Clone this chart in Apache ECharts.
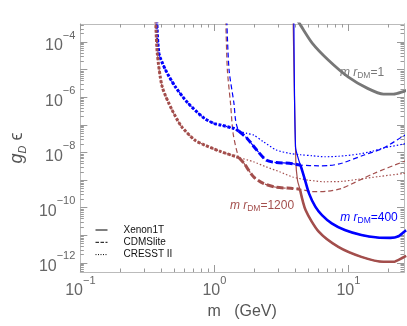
<!DOCTYPE html>
<html><head><meta charset="utf-8">
<script src="https://cdn.jsdelivr.net/npm/echarts@6/dist/echarts.min.js"></script>
<style>html,body{margin:0;padding:0;background:#fff}#c{width:407px;height:326px}</style>
</head><body><div id="c"></div>
<script>
// ---- data (m in GeV, g_D*epsilon) ----
const grayXenon = [[4.15,6.3e-4],[4.39,4.1e-4],[5.37,9.2e-5],[7.11,2.2e-5],[9.95,5.5e-6],[13.9,2.1e-6],[18.3,1.3e-6],[21.7,1.3e-6],[25.6,1.6e-6],[27,1.8e-6]];

const blueXenon = [[3.92,6e-4],[4.03,1.62e-8],[4.25,5.5e-9],[4.39,3.5e-9],[4.67,1.32e-9],[5.08,3.3e-10],[5.68,1.07e-10],[6.35,5.4e-11],[7.51,2.7e-11],[9.40,1.55e-11],[12.5,1.02e-11],[16.5,8.3e-12],[20.6,8.1e-12],[23.7,9.3e-12],[26.1,1.35e-11],[27,1.5e-11]];
const blueCdms = [[1.238,6e-4],[1.287,9.8e-6],[1.40,6.0e-7],[1.44,1.48e-7],[1.52,6.0e-8],[1.75,3.3e-8],[2.07,1.23e-8],[2.45,5.2e-9],[2.90,4.3e-9],[3.63,4.1e-9],[4.39,3.5e-9],[6.0,3.3e-9],[7.1,3.35e-9],[8.9,4.07e-9],[13.1,8.1e-9],[18.3,1.45e-8],[25.6,3.9e-8],[27,4.4e-8]];
const blueCresst = [[0.372,6e-4],[0.386,3.9e-5],[0.432,9.8e-6],[0.511,2.4e-6],[0.638,6.0e-7],[0.845,1.7e-7],[1.0,1.12e-7],[1.12,9.8e-8],[1.40,7.4e-8],[1.52,6.0e-8],[1.75,4.9e-8],[1.96,4.3e-8],[2.32,2.45e-8],[2.90,1.23e-8],[3.63,9.3e-9],[4.4,8.3e-9],[5.4,7.6e-9],[6.7,7.0e-9],[8.5,7.3e-9],[11.8,8.7e-9],[15,1.1e-8],[18.3,1.45e-8],[25.6,2.0e-8],[27,2.1e-8]];
const blueBreaks = [1.52, 4.39];

const brownXenon = [[3.87,6e-4],[4.05,5.2e-9],[4.17,1.0e-9],[4.35,4.7e-10],[4.80,8.1e-11],[6.01,1.35e-11],[8.41,3.8e-12],[12.5,1.66e-12],[18.3,1.1e-12],[21.7,1.1e-12],[25.6,1.58e-12],[27,1.8e-12]];
const brownCdms = [[1.217,6e-4],[1.25,9.8e-6],[1.32,6.0e-7],[1.38,4.9e-8],[1.52,6.6e-9],[1.66,4.1e-9],[1.96,1.32e-9],[2.32,7.6e-10],[2.90,5.5e-10],[3.84,5.0e-10],[4.35,4.7e-10],[5.37,3.8e-10],[7.0,4.0e-10],[8.89,5.0e-10],[15.5,1.74e-9],[25.6,4.6e-9],[27,5.0e-9]];
const brownCresst = [[0.365,6e-4],[0.375,3.9e-5],[0.408,2.4e-6],[0.483,3.5e-7],[0.571,8.5e-8],[0.715,2.8e-8],[0.845,1.86e-8],[1.12,1.07e-8],[1.52,6.6e-9],[1.96,4.6e-9],[2.44,3.0e-9],[3.07,2.0e-9],[3.84,1.3e-9],[5.0,1.0e-9],[6.7,8.7e-10],[9.0,9.0e-10],[11.8,1.07e-9],[17,1.35e-9],[25.6,1.74e-9],[27,1.8e-9]];
const brownBreaks = [1.52, 4.35];

const xMajorTicks = [0.1, 1, 10];
const xMinorTicks = [0.2,0.3,0.4,0.5,0.6,0.7,0.8,0.9,2,3,4,5,6,7,8,9,20];
const yMajorTicks = [1e-12,1e-11,1e-10,1e-9,1e-8,1e-7,1e-6,1e-5,1e-4];
const yMinorTicks = [];
for (let e = -13; e <= -4; e++) for (let k = 2; k <= 9; k++) yMinorTicks.push(k * Math.pow(10, e));

const X_MIN = 0.1, X_MAX = 26, Y_MIN = 4.7e-13, Y_MAX = 4.5e-4;

const BLUE = '#0000ff', BROWN = '#a34e4c', GRAY = '#777777';
const FONT = 'Liberation Sans, Arial, sans-serif';

function ln(name, data, color, width, type, z) {
  return { type: 'line', name, data, symbol: 'none', smooth: 0.25,
    lineStyle: { color, width, type, cap: 'butt' }, itemStyle: { color }, z, silent: true,
    xAxisIndex: 0, yAxisIndex: 0 };
}
const DASH = [5, 3], DOT = [1.5, 2], TDASH = [7, 3], TDOT = [3, 1.6];

function envelope(prefix, color, xen, cdms, cres, br) {
  return [
    ln(prefix + 'envC', cres.filter(p => p[0] <= br[0]), color, 3, TDOT, 5),
    ln(prefix + 'envD', cdms.filter(p => p[0] >= br[0] && p[0] <= br[1]), color, 3, TDASH, 5),
    ln(prefix + 'envX', xen.filter(p => p[0] >= br[1]), color, 2.6, 'solid', 5),
  ];
}

function supLabel(v, every) {
  const e = Math.log10(v), r = Math.round(e);
  if (Math.abs(e - r) > 1e-6) return '';
  if (every === 2 && r % 2 !== 0) return '';
  return '{b|10}{s|' + (r < 0 ? '\u2212' + (-r) : r) + '}';
}
const supRich = {
  b: { fontSize: 16, lineHeight: 24, verticalAlign: 'bottom', color: '#666', fontFamily: FONT },
  s: { fontSize: 11, verticalAlign: 'top', color: '#666', fontFamily: FONT }
};

function xAx(pos, ticks, len, labels) {
  return { type: 'log', min: X_MIN, max: X_MAX, position: pos, gridIndex: 0,
    axisLine: { show: true, lineStyle: { color: '#bbb', width: 1 } },
    axisTick: { show: true, inside: true, length: len, customValues: ticks, lineStyle: { color: '#999' } },
    axisLabel: labels ? { show: true, customValues: xMajorTicks, margin: 3, formatter: v => supLabel(v, 1), rich: supRich } : { show: false },
    splitLine: { show: false }, minorTick: { show: false } };
}
function yAx(pos, ticks, len, labels) {
  return { type: 'log', min: Y_MIN, max: Y_MAX, position: pos, gridIndex: 0,
    axisLine: { show: true, lineStyle: { color: '#bbb', width: 1 } },
    axisTick: { show: true, inside: true, length: len, customValues: ticks, lineStyle: { color: '#999' } },
    axisLabel: labels ? { show: true, customValues: yMajorTicks, margin: 5, formatter: v => supLabel(v, 2), rich: supRich } : { show: false },
    splitLine: { show: false }, minorTick: { show: false } };
}

const xAxes = [xAx('bottom', xMajorTicks, 7, true), xAx('top', xMajorTicks, 7, false), xAx('bottom', xMinorTicks, 3.5, false), xAx('top', xMinorTicks, 3.5, false)];
xAxes[0].name = 'm   (GeV)';
xAxes[0].nameLocation = 'middle';
xAxes[0].nameGap = 31;
xAxes[0].nameTextStyle = { fontSize: 16, color: '#555', fontFamily: FONT };
const yAxes = [yAx('left', yMajorTicks, 7, true), yAx('right', yMajorTicks, 7, false), yAx('left', yMinorTicks, 3.5, false), yAx('right', yMinorTicks, 3.5, false)];
yAxes[0].name = '{i|g}{d|D}{n| \u03f5}';
yAxes[0].nameLocation = 'middle';
yAxes[0].nameGap = 52;
yAxes[0].nameRotate = 90;
yAxes[0].nameTextStyle = { rich: {
  i: { fontSize: 18, fontStyle: 'italic', color: '#555', fontFamily: FONT, lineHeight: 20, verticalAlign: 'top' },
  d: { fontSize: 11, fontStyle: 'italic', color: '#555', fontFamily: FONT, verticalAlign: 'bottom' },
  n: { fontSize: 18, color: '#555', fontFamily: FONT, lineHeight: 20, verticalAlign: 'top' } } };

function legendLine(name, type) {
  const s = ln(name, [], '#000', 1, type, 1);
  s.itemStyle = { color: '#000', opacity: 0 };
  return s;
}

const series = [
  ln('gray Xenon1T', grayXenon, GRAY, 2.8, 'solid', 4),
  ln('blue Xenon1T', blueXenon, BLUE, 1.2, 'solid', 3),
  ln('blue CDMSlite', blueCdms, BLUE, 1.2, DASH, 3),
  ln('blue CRESST II', blueCresst, BLUE, 1.2, DOT, 3),
  ln('brown Xenon1T', brownXenon, BROWN, 1.2, 'solid', 2),
  ln('brown CDMSlite', brownCdms, BROWN, 1.2, DASH, 2),
  ln('brown CRESST II', brownCresst, BROWN, 1.2, DOT, 2),
  ...envelope('blue ', BLUE, blueXenon, blueCdms, blueCresst, blueBreaks),
  ...envelope('brown ', BROWN, brownXenon, brownCdms, brownCresst, brownBreaks),
  legendLine('Xenon1T', 'solid'),
  legendLine('CDMSlite', [3.5, 1.5]),
  legendLine('CRESST II', [1, 1.5]),
];

const annRich = (c) => ({
  i: { fontSize: 12, fontStyle: 'italic', fill: c, fontFamily: FONT, lineHeight: 14 },
  s: { fontSize: 8.5, fill: c, fontFamily: FONT, verticalAlign: 'bottom' },
  n: { fontSize: 12, fill: c, fontFamily: FONT, lineHeight: 14 }
});
function ann(x, y, txt, c) {
  return { type: 'text', x, y, silent: true, z: 10,
    style: { text: '{i|m r}{s|DM}{n|=' + txt + '}', fill: c, rich: annRich(c), align: 'center', verticalAlign: 'middle' } };
}

const chart = echarts.init(document.getElementById('c'), null, { renderer: 'canvas' });
chart.setOption({
  animation: false,
  backgroundColor: '#fff',
  grid: { left: 73, right: 3, top: 24, bottom: 54, containLabel: false },
  xAxis: xAxes,
  yAxis: yAxes,
  legend: { data: ['Xenon1T', 'CDMSlite', 'CRESST II'], orient: 'vertical', left: 95, top: 225, padding: 0,
    itemWidth: 12, itemHeight: 10, itemGap: 2.3, selectedMode: false,
    itemStyle: { opacity: 0 }, lineStyle: { width: 1 },
    textStyle: { fontSize: 10, color: '#111', fontFamily: FONT, padding: [0, 0, 0, 11] } },
  series,
  graphic: [ann(362, 73, '1', GRAY), ann(369, 218, '400', BLUE), ann(262, 206, '1200', BROWN)]
});
</script></body></html>
